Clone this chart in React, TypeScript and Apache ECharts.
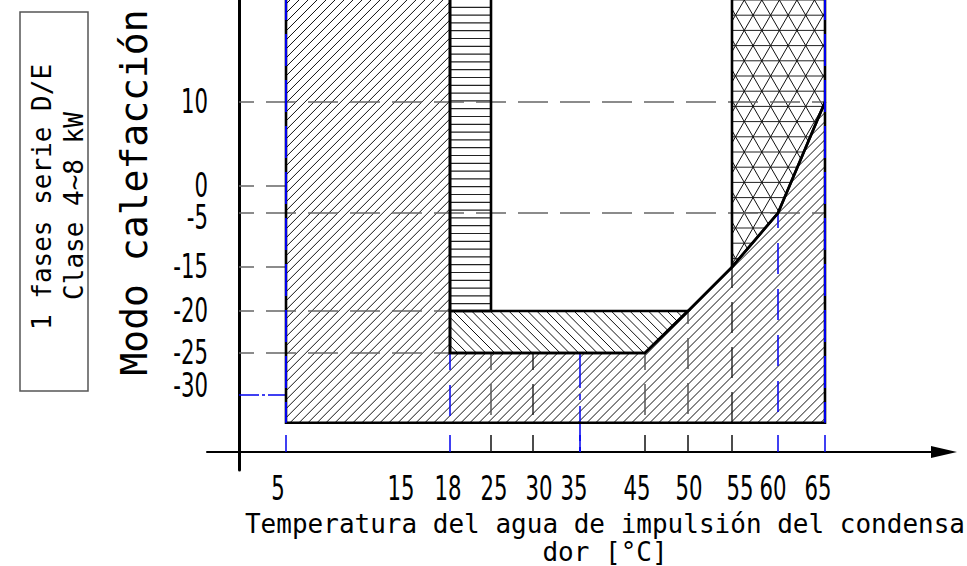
import React, { useEffect, useRef } from "react";
import * as echarts from "echarts";

// ---------- schematic (non-linear) axis scales ----------
// tick values and their place along each axis, in drawing units
const xTickTemps = [5, 15, 18, 25, 30, 35, 45, 50, 55, 60, 65];
const xTickUnits = [47, 163, 211, 252, 294, 341, 406, 449, 493, 539, 586];
const yTickTemps = [10, 0, -5, -15, -20, -25, -30];
const yTickUnits = [350, 266, 239, 185, 141, 99, 57];

// ---------- data (°C water temperature / °C outdoor temperature) ----------
const floorTemp = -33.3;
const topTemp = 40;
// main operating range
const rangeX = [5, 18, 18, 45, 50, 55, 60, 65, 65, 5];
const rangeY = [topTemp, topTemp, -25, -25, -20, -15, -5, 10, floorTemp, floorTemp];
// horizontal-lines zone
const zoneBX = [18, 25, 25, 18];
const zoneBY = [topTemp, topTemp, -20, -20];
// back-slash zone
const zoneCX = [18, 50, 45, 18];
const zoneCY = [-20, -20, -25, -25];
// triangle zone
const zoneDX = [55, 65, 65, 60, 55];
const zoneDY = [topTemp, topTemp, 10, -5, -15];

// guides
const hGuideY = [10, 0, -5, -15, -20, -25];
const hGuideToX = [65, 5, 65, 5, 18, 18];
const vGuideX = [18, 25, 30, 35, 45, 50, 55, 60];
const vGuideFromY = [-25, -25, -25, -25, -25, -20, -15, -5];
const blueTicks = [5, 18, 35, 60, 65];
const blackTicks = [25, 30, 45, 50, 55];
const edgeX = [5, 65];
const limitY = -30;

// ---------- styles ----------
const BLUE = "#0000ee";
const TICK_FONT = "'DejaVu Sans', sans-serif";
const TICK_SIZE = 34;
const TICK_SCALE_X = 0.625;
const MONO = "'DejaVu Sans Mono', monospace";
const xLabelNudge: Record<number, number> = { 5: -8, 15: -1, 18: -2, 25: 3, 30: 6, 35: -6, 45: -8, 50: 1, 55: 8, 60: -5, 65: -7 };
const yLabelNudge: Record<number, number> = { 10: 0, 0: 0, [-5]: -5, [-15]: 0, [-20]: 0, [-25]: 0, [-30]: 9 };
const vGuideStyle: Record<number, any> = {
  18: { color: BLUE, width: 1.5, type: [31, 15], dashOffset: 14 },
  25: { color: "#555", width: 1.5, type: [31, 14], dashOffset: 14 },
  30: { color: "#111", width: 1.3, type: [31, 14], dashOffset: 14 },
  35: { color: BLUE, width: 1.5, type: [35, 6, 6, 6], dashOffset: 0 },
  45: { color: "#555", width: 1.5, type: [31, 14], dashOffset: 14 },
  50: { color: "#555", width: 1.5, type: [31, 14], dashOffset: 18 },
  55: { color: "#111", width: 1.3, type: [31, 14], dashOffset: 10 },
  60: { color: BLUE, width: 1.5, type: [31, 15], dashOffset: 16 },
};

function makeInterp(inp: number[], out: number[]) {
  const pairs = inp.map((v, i) => [v, out[i]]).sort((a, b) => a[0] - b[0]);
  return (v: number) => {
    const n = pairs.length;
    let i = 0;
    if (v <= pairs[0][0]) i = 0;
    else if (v >= pairs[n - 1][0]) i = n - 2;
    else {
      while (i < n - 2 && v > pairs[i + 1][0]) i++;
    }
    const [x0, y0] = pairs[i];
    const [x1, y1] = pairs[i + 1];
    return y0 + ((v - x0) * (y1 - y0)) / (x1 - x0);
  };
}
const xu = makeInterp(xTickTemps, xTickUnits);
const yu = makeInterp(yTickTemps, yTickUnits);

type Hatch = { angle: number; gap: number; anchor: number[]; color: string; width: number };
const zones = [
  { xs: rangeX, ys: rangeY, hatches: [{ angle: -45, gap: 6.36, anchor: [290, 0], color: "#111", width: 1 }] as Hatch[] },
  { xs: zoneBX, ys: zoneBY, hatches: [{ angle: 0, gap: 7.8, anchor: [460, 7.3], color: "#222", width: 1.2 }] as Hatch[] },
  { xs: zoneCX, ys: zoneCY, hatches: [{ angle: 45, gap: 6.58, anchor: [453, 311], color: "#111", width: 1 }] as Hatch[] },
  {
    xs: zoneDX,
    ys: zoneDY,
    hatches: [
      { angle: 0, gap: 15.2, anchor: [735.5, 15.2], color: "#222", width: 1 },
      { angle: 60, gap: 15.2, anchor: [735.5, 15.2], color: "#111", width: 1 },
      { angle: -60, gap: 15.2, anchor: [735.5, 15.2], color: "#111", width: 1 },
    ] as Hatch[],
  },
];

function hatchSegments(poly: number[][], h: Hatch) {
  const a = (h.angle * Math.PI) / 180;
  const dx = Math.cos(a), dy = Math.sin(a);
  const nx = -dy, ny = dx;
  const proj = poly.map((p) => p[0] * nx + p[1] * ny);
  const c0 = h.anchor[0] * nx + h.anchor[1] * ny;
  const lo = Math.min(...proj), hi = Math.max(...proj);
  const segs: number[][] = [];
  for (let k = Math.ceil((lo - c0) / h.gap); c0 + k * h.gap <= hi; k++) {
    const c = c0 + k * h.gap;
    const hits: { u: number; x: number; y: number }[] = [];
    for (let i = 0; i < poly.length; i++) {
      const j = (i + 1) % poly.length;
      const fa = proj[i] - c, fb = proj[j] - c;
      if (fa < 0 !== fb < 0) {
        const t = fa / (fa - fb);
        const x = poly[i][0] + t * (poly[j][0] - poly[i][0]);
        const y = poly[i][1] + t * (poly[j][1] - poly[i][1]);
        hits.push({ u: x * dx + y * dy, x, y });
      }
    }
    hits.sort((p, q) => p.u - q.u);
    for (let m = 0; m + 1 < hits.length; m += 2) segs.push([hits[m].x, hits[m].y, hits[m + 1].x, hits[m + 1].y]);
  }
  return segs;
}

function seg(pts: number[][], lineStyle: any, z: number) {
  return { type: "line", data: pts, symbol: "none", showSymbol: false, silent: true, lineStyle, z, clip: false };
}

export default function App() {
  const ref = useRef<HTMLDivElement>(null);
  useEffect(() => {
    if (!ref.current) return;
    const chart = echarts.init(ref.current, undefined, { renderer: "svg" });

    const series: any[] = [];
    const zoneData = zones.map((z) => [xu(z.xs[0]), yu(z.ys[0])]);
    series.push({
      type: "custom",
      silent: true,
      z: 2,
      data: zoneData,
      renderItem: (params: any, api: any) => {
        const z = zones[params.dataIndex];
        const poly = z.xs.map((x, i) => api.coord([xu(x), yu(z.ys[i])]));
        const children: any[] = [];
        z.hatches.forEach((h) => {
          hatchSegments(poly, h).forEach((s) =>
            children.push({ type: "line", shape: { x1: s[0], y1: s[1], x2: s[2], y2: s[3] }, style: { stroke: h.color, lineWidth: h.width } })
          );
        });
        return { type: "group", children };
      },
    });
    // horizontal guides
    hGuideY.forEach((y, i) => {
      series.push(seg([[0, yu(y)], [xu(hGuideToX[i]), yu(y)]], { color: "#666", width: 1.5, type: [30, 12], dashOffset: 15 }, 3));
    });
    series.push(seg([[0, yu(limitY)], [xu(5), yu(limitY)]], { color: BLUE, width: 1.5, type: [20, 3, 3, 3], dashOffset: 0 }, 3));
    // vertical guides
    vGuideX.forEach((x, i) => {
      const bottom = x === 35 ? 0 : yu(floorTemp);
      series.push(seg([[xu(x), yu(vGuideFromY[i])], [xu(x), bottom]], vGuideStyle[x], 3));
    });
    // outlines
    series.push({
      type: "custom",
      silent: true,
      z: 4,
      data: zoneData,
      renderItem: (params: any, api: any) => {
        const z = zones[params.dataIndex];
        const poly = z.xs.map((x, i) => api.coord([xu(x), yu(z.ys[i])]));
        return { type: "polygon", shape: { points: poly }, style: { fill: "none", stroke: "#000", lineWidth: 2.6, lineJoin: "miter" } };
      },
    });
    // blue edges of range
    edgeX.forEach((x) => {
      series.push(seg([[xu(x), yu(topTemp)], [xu(x), yu(floorTemp)]], { color: BLUE, width: 2, type: [32, 14], dashOffset: 0 }, 5));
    });
    // ticks on the temperature axis
    blueTicks.forEach((x) => series.push(seg([[xu(x), 0], [xu(x), 17]], { color: BLUE, width: 1.5 }, 5)));
    blackTicks.forEach((x) => series.push(seg([[xu(x), 0], [xu(x), 17]], { color: "#111", width: 1.5 }, 5)));

    const boxGraphics: any[] = [
      { type: "rect", shape: { x: 20, y: 12, width: 68, height: 379 }, style: { fill: "none", stroke: "#555", lineWidth: 1.5 } },
      {
        type: "text",
        x: 42,
        y: 197,
        rotation: Math.PI / 2,
        style: { text: "1 fases serie D/E", fontFamily: MONO, fontSize: 26, fill: "#000", align: "center", verticalAlign: "middle" },
      },
      {
        type: "text",
        x: 74,
        y: 206,
        rotation: Math.PI / 2,
        style: { text: "Clase 4~8 kW", fontFamily: MONO, fontSize: 26, fill: "#000", align: "center", verticalAlign: "middle" },
      },
    ];

    chart.setOption({
      animation: false,
      backgroundColor: "#fff",
      grid: { left: 207, right: 23, top: 0, bottom: 96, containLabel: false, outerBoundsMode: "none" },
      xAxis: {
        type: "value",
        min: -32,
        max: 705,
        axisLine: { onZero: true, lineStyle: { color: "#000", width: 2 }, symbol: ["none", "triangle"], symbolSize: [12, 26] },
        axisTick: { show: false },
        splitLine: { show: false },
        axisLabel: { show: false },
        name: "Temperatura del agua de impulsión del condensa\ndor [°C]",
        nameLocation: "middle",
        nameGap: 40,
        nameTextStyle: { fontFamily: MONO, fontSize: 26, lineHeight: 28, color: "#000", padding: [0, 0, 0, 59] },
      },
      yAxis: {
        type: "value",
        min: -18,
        max: 452,
        axisLine: { onZero: true, lineStyle: { color: "#000", width: 3 } },
        axisTick: { show: false },
        splitLine: { show: false },
        axisLabel: { show: false },
        name: "Modo calefacción",
        nameLocation: "middle",
        nameRotate: 90,
        nameGap: 54,
        nameTextStyle: { fontFamily: MONO, fontSize: 38, color: "#000", padding: [0, 0, 0, 85] },
      },
      graphic: boxGraphics,
      series,
    });

    // tick labels, narrow lettering as in the drawing, placed through the axis scales
    const xPx = (u: number) => chart.convertToPixel({ xAxisIndex: 0 }, u) as number;
    const yPx = (u: number) => chart.convertToPixel({ yAxisIndex: 0 }, u) as number;
    const axisYpx = yPx(0);
    const axisXpx = xPx(0);
    const labelStyle = { fontFamily: TICK_FONT, fontSize: TICK_SIZE, fill: "#000", verticalAlign: "middle" };
    const xLabels = xTickTemps.map((t) => ({
      type: "text",
      x: xPx(xu(t) + (xLabelNudge[t] || 0)),
      y: axisYpx + 37,
      scaleX: TICK_SCALE_X,
      style: { ...labelStyle, text: String(t), align: "center" },
    }));
    const yLabels = yTickTemps.map((t) => ({
      type: "text",
      x: axisXpx - 31,
      y: yPx(yu(t) + (yLabelNudge[t] || 0)),
      scaleX: TICK_SCALE_X,
      style: { ...labelStyle, text: String(t), align: "right" },
    }));
    chart.setOption({ graphic: [...boxGraphics, ...xLabels, ...yLabels] });

    return () => chart.dispose();
  }, []);
  return <div ref={ref} style={{ position: "fixed", left: 0, top: 0, width: 967, height: 566 }} />;
}
